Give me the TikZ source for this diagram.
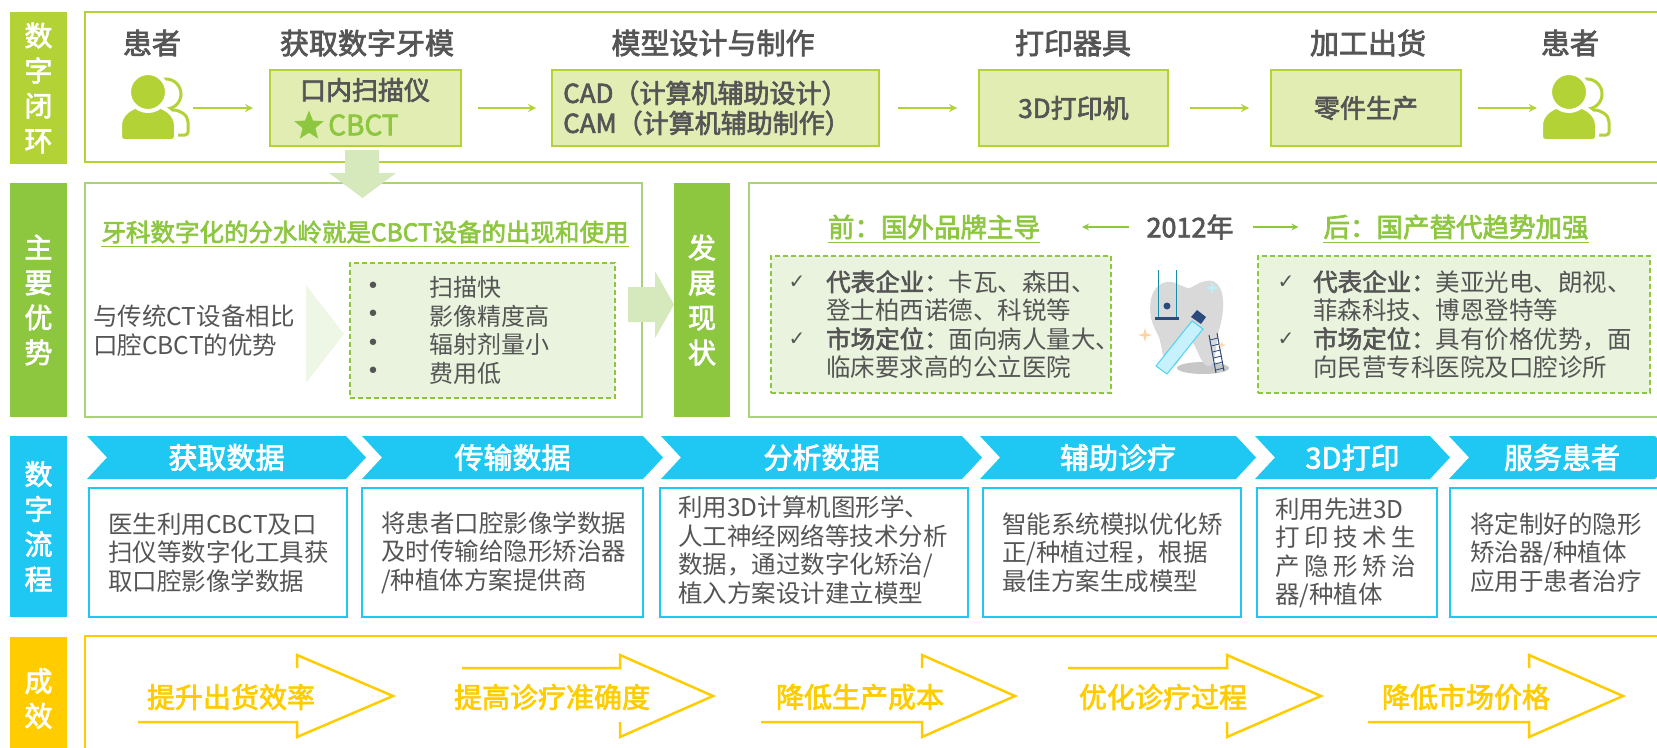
\documentclass[tikz,border=0pt]{standalone}
\usepackage{fontspec}
\setmainfont{Noto Sans CJK SC}[AutoFakeBold=2.5]
\newfontfamily\symfont{DejaVu Sans}
\usetikzlibrary{shapes.geometric}

\definecolor{lime}{HTML}{B2D235}
\definecolor{limefill}{HTML}{E2EDB4}
\definecolor{leaf}{HTML}{8DC63F}
\definecolor{leafline}{HTML}{A9D27A}
\definecolor{leafpale}{HTML}{D5E9BC}
\definecolor{leafwash}{HTML}{E9F3DD}
\definecolor{leafghost}{HTML}{EEF6E6}
\definecolor{sky}{HTML}{1FC8F2}
\definecolor{gold}{HTML}{FFCC00}
\definecolor{ink}{HTML}{555555}
\definecolor{navy}{HTML}{2C4A7C}

\newcommand{\fsz}[2]{\fontsize{#1}{#2}\selectfont}

\tikzset{
  rowtag/.style={fill=#1, text=white, font=\fsz{28}{35}\bfseries, align=center,
    inner sep=0pt, minimum width=57pt},
  head/.style={text=ink, font=\fsz{29}{29}\bfseries, inner sep=0pt},
  tool/.style={draw=lime, fill=limefill, line width=2pt, minimum height=76pt,
    text=ink, font=\fsz{26}{26}\bfseries},
  tooltext/.style={text=ink, font=\fsz{26}{30}\bfseries, inner sep=0pt},
  flow/.style={draw=lime, line width=2.5pt, -stealth},
  trend/.style={draw=leaf, line width=2pt, -stealth},
  title/.style={text=leaf, font=\fsz{26.5}{26.5}\bfseries, inner sep=0pt},
  wash/.style={draw=leaf, fill=leafwash, line width=1.5pt, dash pattern=on 5pt off 3pt},
  body/.style={text=ink, font=\fsz{24.5}{28.5}, align=left, inner sep=0pt, anchor=west},
  check/.style={text=ink, font=\symfont\fsz{20}{20}, inner sep=0pt},
  phase/.style={text=white, font=\fsz{29}{29}\bfseries, inner sep=0pt},
  card/.style={draw=sky, fill=white, line width=2pt},
  desc/.style={text=ink, font=\fsz{24.5}{28.5}, align=left, inner sep=0pt, anchor=west},
  result/.style={text=gold, font=\fsz{28}{28}\bfseries, inner sep=0pt},
  outcome/.style={draw=gold, line width=2.5pt},
  patient/.pic={
    \draw[lime, line width=3pt] (12,-14) circle[radius=15];
    \draw[lime, line width=3pt, rounded corners=3pt] (-2,27) -- (-2,17)
      .. controls (-2,6) and (6,2) .. (16,2) .. controls (26,2) and (34,7) .. (34,17)
      -- (34,27) -- cycle;
    \filldraw[fill=lime, draw=white, line width=4pt, rounded corners=4pt] (-34,33) -- (-34,21)
      .. controls (-34,5) and (-20,-3) .. (-6,-3) .. controls (8,-3) and (22,5) .. (22,21)
      -- (22,33) -- cycle;
    \filldraw[fill=lime, draw=white, line width=4pt] (-6,-16) circle[radius=19];
  },
  spark/.pic={
    \fill (0,-7) -- (1.5,-1.5) -- (7,0) -- (1.5,1.5) -- (0,7) -- (-1.5,1.5) -- (-7,0) -- (-1.5,-1.5) -- cycle;
  }
}

\begin{document}
\begin{tikzpicture}[x=1pt,y=-1pt]
\useasboundingbox (0,0) rectangle (1657,747);

\node[rowtag=lime, minimum height=152pt] (loop) at (38.5,88) {数\\字\\闭\\环};
\node[rowtag=leaf, minimum height=234pt] (gain) at (38.5,300) {主\\要\\优\\势};
\node[rowtag=sky, minimum height=181pt] (proc) at (38.5,526.5) {数\\字\\流\\程};
\node[rowtag=gold, minimum height=123pt] (effect) at (38.5,698.5) {成\\效};

% closed digital loop
\draw[lime, line width=2pt] (85,12) rectangle (1672,162);
\foreach \x/\t [count=\i] in {152/患者, 367/获取数字牙模, 713/模型设计与制作, 1073/打印器具, 1368/加工出货, 1570/患者}
  \node[head] (h\i) at (\x,43) {\t};

\node[minimum width=68pt, minimum height=66pt, inner sep=0pt] (pat1) at (154,108) {};
\pic at (pat1) {patient};
\node[tool, minimum width=191pt] (scan) at (365.5,108) {};
\node[tooltext] (scant) at (365,90) {口内扫描仪};
\node[star, star points=5, star point ratio=2.3, fill=leaf, inner sep=0pt, minimum size=31pt] (mark) at (309,126) {};
\node[tooltext, text=leaf, font=\fsz{28}{28}\bfseries, anchor=west] (cbct) at (328,125) {CBCT};
\node[tool, minimum width=327pt] (cad) at (715.5,108) {};
\node[tooltext, anchor=west] (cadt) at (563,93) {CAD（计算机辅助设计）};
\node[tooltext, anchor=west] (camt) at (563,123) {CAM（计算机辅助制作）};
\node[tool, minimum width=189pt] (printer) at (1073.5,108) {3D打印机};
\node[tool, minimum width=190pt] (parts) at (1366,108) {零件生产};
\node[minimum width=68pt, minimum height=66pt, inner sep=0pt] (pat2) at (1575,108) {};
\pic at (pat2) {patient};

\draw[flow, shorten <=5pt, shorten >=16pt] (pat1) -- (scan);
\draw[flow, shorten <=16pt, shorten >=15pt] (scan) -- (cad);
\draw[flow, shorten <=18pt, shorten >=21pt] (cad) -- (printer);
\draw[flow, shorten <=21pt, shorten >=21pt] (printer) -- (parts);
\draw[flow, shorten <=16pt, shorten >=4pt] (parts) -- (pat2);

% main advantages
\draw[leafline, line width=2pt] (85,183) rectangle (642,417);
\node[title, font=\fsz{24.5}{24.5}\bfseries] (water) at (365,232) {牙科数字化的分水岭就是CBCT设备的出现和使用};
\draw[leaf, line width=1.5pt] ([yshift=-3pt]water.south west) -- ([yshift=-3pt]water.south east);
\node[body] (cmp) at (93,330.5) {与传统CT设备相比\\口腔CBCT的优势};
\fill[leafghost] (306,285) -- (344,334) -- (306,383) -- cycle;
\node[wash, minimum width=265pt, minimum height=135pt] (pros) at (482.5,330.5) {};
\node[body, anchor=center, align=center, font=\symfont\fsz{22}{28.5}] (dots) at (373,330.5) {•\\•\\•\\•};
\node[body, font=\fsz{24}{28.5}] (plist) at (429,330.5) {扫描快\\影像精度高\\辐射剂量小\\费用低};
\fill[leafpale] (345,150) -- (379,150) -- (379,173) -- (396,173) -- (362.5,198) -- (329,173) -- (345,173) -- cycle;
\fill[leafpale] (628,287) -- (655,287) -- (655,271) -- (674,304.5) -- (655,338) -- (655,322) -- (628,322) -- cycle;

% development status
\node[rowtag=leaf, minimum width=56pt, minimum height=234pt] (now) at (702,300) {发\\展\\现\\状};
\draw[leafline, line width=2pt] (749,183) rectangle (1672,417);
\node[title] (before) at (934,227) {前：国外品牌主导};
\node[head, font=\fsz{27}{27}\bfseries] (year) at (1190,227) {2012年};
\node[title] (after) at (1456,227) {后：国产替代趋势加强};
\draw[leaf, line width=1.5pt] ([yshift=-3pt]before.south west) -- ([yshift=-3pt]before.south east);
\draw[leaf, line width=1.5pt] ([yshift=-3pt]after.south west) -- ([yshift=-3pt]after.south east);
\draw[trend, shorten <=17pt, shorten >=42pt] (year) -- (before);
\draw[trend, shorten <=19pt, shorten >=25pt] (year) -- (after);

\node[wash, minimum width=340pt, minimum height=137pt] (old) at (941,324.5) {};
\node[wash, minimum width=392pt, minimum height=137pt] (new) at (1454,324.5) {};
\node[check] (ck1) at (797,282) {✓};
\node[check] (ck2) at (797,339) {✓};
\node[check] (ck3) at (1286,282) {✓};
\node[check] (ck4) at (1286,339) {✓};
\node[body] (oldt) at (826,324.5) {\textbf{代表企业：}卡瓦、森田、\\登士柏西诺德、科锐等\\\textbf{市场定位：}面向病人量大、\\临床要求高的公立医院};
\node[body] (newt) at (1313,324.5) {\textbf{代表企业：}美亚光电、朗视、\\菲森科技、博恩登特等\\\textbf{市场定位：}具有价格优势，面\\向民营专科医院及口腔诊所};

% tooth with a swing, a paste tube and a ladder
\fill[black!22] (1203,368) ellipse[x radius=26, y radius=6];
\fill[black!15] (1151,318) .. controls (1147,293) and (1158,280) .. (1172,282)
  .. controls (1180,284) and (1186,289) .. (1190,288) .. controls (1196,285) and (1204,279) .. (1213,281)
  .. controls (1226,287) and (1225,310) .. (1219,330) .. controls (1215,345) and (1217,362) .. (1210,366)
  .. controls (1200,368) and (1198,345) .. (1190,340) .. controls (1182,345) and (1182,367) .. (1171,366)
  .. controls (1161,364) and (1163,345) .. (1158,335) .. controls (1154,328) and (1152,322) .. (1151,318) -- cycle;
\draw[sky!70!black, line width=1pt] (1158,270) -- (1158,318) (1176,270) -- (1176,318);
\draw[navy, line width=3pt] (1155,318) -- (1179,318);
\fill[navy] (1167,306) circle[radius=3.5];
\filldraw[fill=sky!25, draw=sky!80, line width=1pt] (1156,366) -- (1192,321) -- (1203,329) -- (1167,374) -- cycle;
\fill[navy] (1191,317) -- (1197,310) -- (1206,317) -- (1201,324) -- cycle;
\draw[navy, line width=1pt] (1209,335) -- (1216,373) (1217,333) -- (1224,371);
\foreach \k in {0,...,5}
  \draw[navy, line width=.8pt] (1210+1.2*\k,340+6*\k) -- (1218+1.2*\k,338+6*\k);
\pic[orange!35] at (1145,335) {spark};
\pic[sky!30] at (1212,288) {spark};
\pic[orange!30, scale=.6] at (1222,345) {spark};

% digital workflow
\foreach \a/\b/\t [count=\i] in {87/346/获取数据, 362/643/传输数据, 661/962/分析数据, 980/1236/辅助诊疗, 1255/1430/3D打印, 1449/1655/服务患者} {
  \fill[sky] (\a,436) -- (\b,436) -- (\b+20,457.5) -- (\b,479) -- (\a,479) -- (\a+20,457.5) -- cycle;
  \node[phase] (ph\i) at ({(\a+\b+20)/2},457.5) {\t};
}
\foreach \a/\b [count=\i] in {89/347, 362/643, 660/968, 983/1241, 1257/1437, 1450/1672}
  \node[card, minimum width={\b-\a}, minimum height=129pt] (card\i) at ({(\a+\b)/2},552.5) {};
\node[desc] (d1) at (108,552.5) {医生利用CBCT及口\\扫仪等数字化工具获\\取口腔影像学数据};
\node[desc] (d2) at (381,552.5) {将患者口腔影像学数据\\及时传输给隐形矫治器\\/种植体方案提供商};
\node[desc] (d3) at (678,550) {利用3D计算机图形学、\\人工神经网络等技术分析\\数据，通过数字化矫治/\\植入方案设计建立模型};
\node[desc] (d4) at (1002,552.5) {智能系统模拟优化矫\\正/种植过程，根据\\最佳方案生成模型};
\node[desc] (d5) at (1275,553) {利用先进3D\\\makebox[141pt][s]{打\hfill 印\hfill 技\hfill 术\hfill 生}\\\makebox[141pt][s]{产\hfill 隐\hfill 形\hfill 矫\hfill 治}\\器/种植体};
\node[desc] (d6) at (1470,552.5) {将定制好的隐形\\矫治器/种植体\\应用于患者治疗};

% outcomes
\draw[gold, line width=2pt] (85,760) -- (85,636) -- (1672,636);
\foreach \s/\b/\p in {138/297/393, 761/922/1015, 1368/1529/1623}
  \draw[outcome] (\s,722) -- (\b,722) -- (\b,737) -- (\p,696) -- (\b,655) -- (\b,668);
\foreach \s/\b/\p in {462/620/713, 1068/1227/1321}
  \draw[outcome] (\s,668) -- (\b,668) -- (\b,655) -- (\p,696) -- (\b,737) -- (\b,722);
\foreach \x/\t [count=\i] in {231/提升出货效率, 552/提高诊疗准确度, 860/降低生产成本, 1163/优化诊疗过程, 1466/降低市场价格}
  \node[result] (res\i) at (\x,697) {\t};
\end{tikzpicture}
\end{document}
